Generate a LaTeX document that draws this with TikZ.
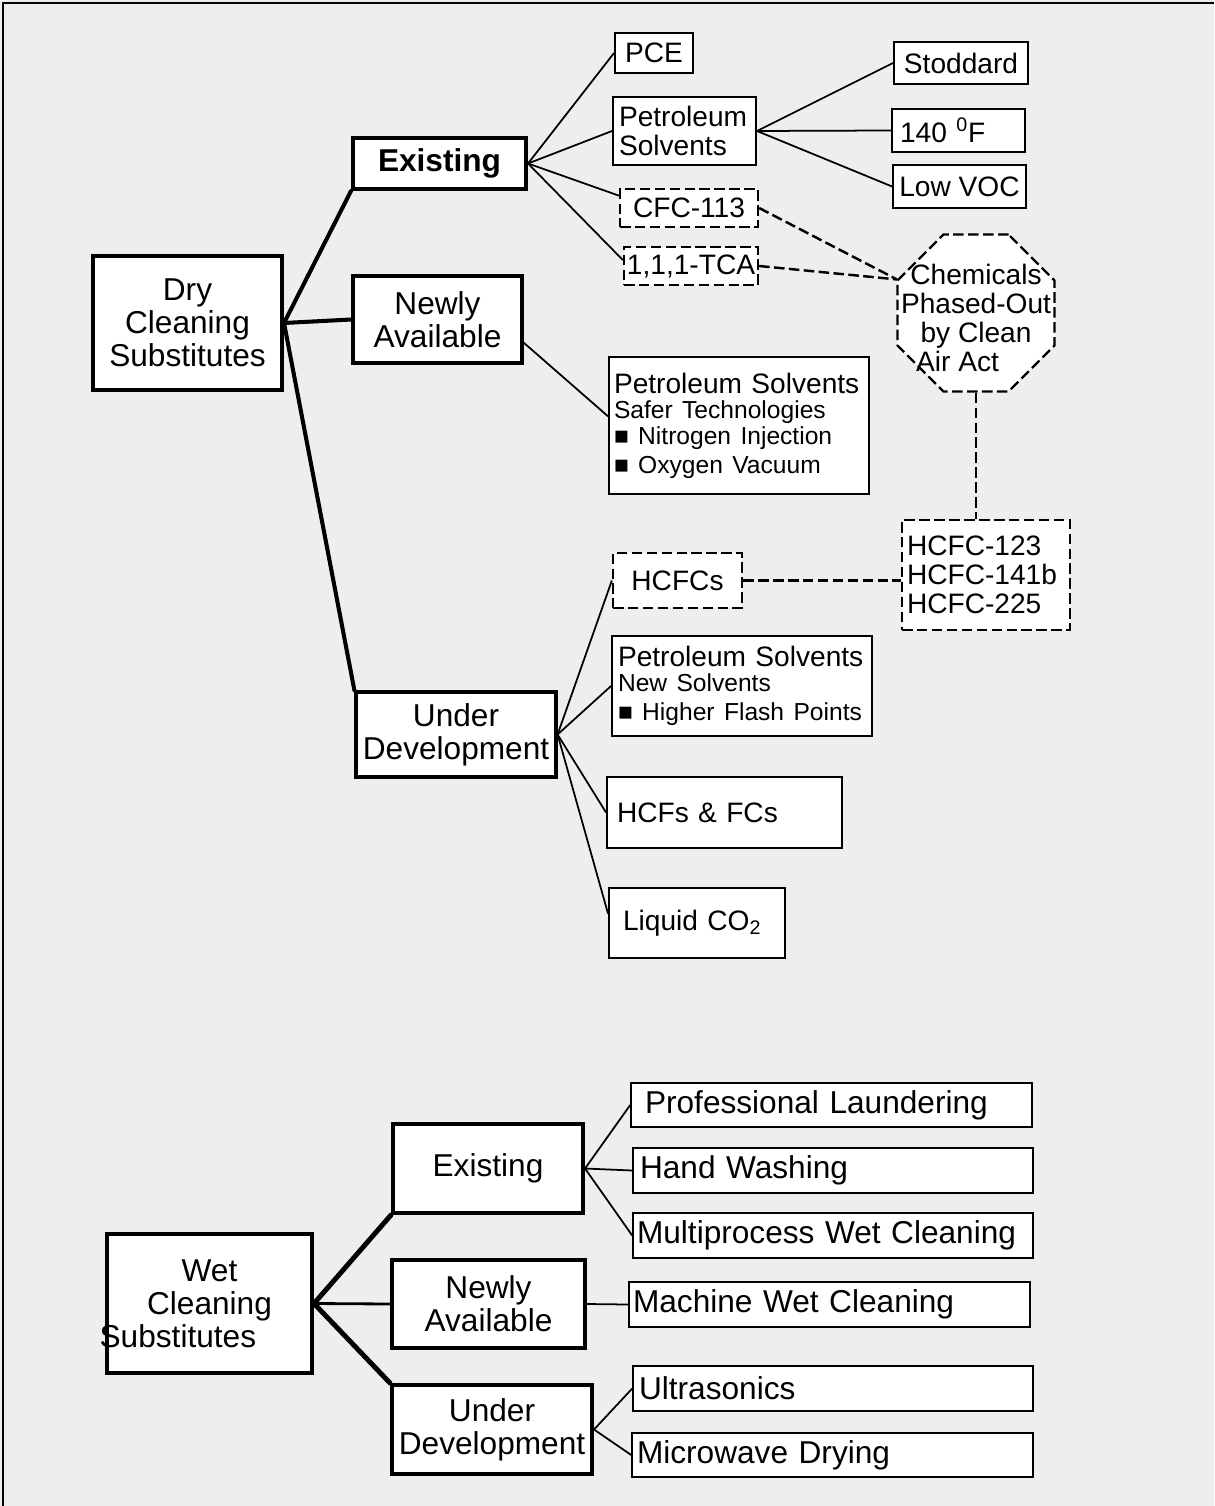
\documentclass[tikz,border=0pt]{standalone}
\usepackage{fontspec}
\setmainfont{Liberation Sans}
\usetikzlibrary{shapes.geometric}
\definecolor{bggray}{HTML}{EEEEEE}
\newcommand{\bigfont}{\fontsize{18}{18.8}\selectfont}
\newcommand{\midfont}{\fontsize{16}{16.5}\selectfont}
\newcommand{\smallfont}{\fontsize{14}{14.5}\selectfont}

\begin{document}
\begin{tikzpicture}[x=0.02cm, y=-0.02cm,
  box/.style={draw, fill=white, inner sep=0pt, line width=1.1pt, font=\midfont, align=center},
  sz/.style 2 args={minimum width=#1*0.02cm, minimum height=#2*0.02cm},
  lsz/.style n args={3}{text width=(#1-2*#3)*0.02cm, minimum height=#2*0.02cm,
    inner xsep=#3*0.02cm, align=left},
  head/.style={box, line width=2.3pt, font=\bigfont},
  sub/.style={box, line width=1.8pt, font=\bigfont},
  leaf/.style={box, line width=0.9pt, font=\bigfont},
  dbox/.style={box, line width=1.3pt, dash pattern=on 6pt off 2.5pt},
  octa/.style={draw, fill=white, regular polygon, regular polygon sides=8,
    minimum size=170*0.02cm, inner sep=0pt, line width=1.3pt, dash pattern=on 6pt off 2.5pt},
  link/.style={line width=1pt},
  trunk/.style={line width=2.3pt, line cap=round},
  dlink/.style={line width=1.4pt, dash pattern=on 6pt off 2.5pt}]
  \useasboundingbox (0,0) rectangle (1214,1506);
  \fill[bggray] (0,0) rectangle (1214,1506);
  \draw[line width=1.1pt] (3,1506) -- (3,3) -- (1214,3);
  % dry cleaning tree
  \node[head, sz={189}{134}] (dry) at (187.5,323) {Dry\\Cleaning\\Substitutes};
  \node[head, sz={173}{51}, font=\bigfont\bfseries] (dex) at (439.5,163.5) {Existing};
  \node[sub, sz={169}{87}] (dnew) at (437.5,319.5) {Newly\\Available};
  \node[sub, sz={200}{85}] (dund) at (456,734.5) {Under\\Development};
  % existing
  \node[box, sz={78}{40}] (pce) at (654,53) {PCE};
  \node[box, lsz={143}{68}{6}] (pet) at (684.5,131) {Petroleum\\Solvents};
  \node[dbox, sz={138}{38}] (cfc) at (689,208) {CFC-113};
  \node[dbox, sz={134}{38}] (tca) at (691,266) {1,1,1-TCA};
  \node[box, sz={134}{42}] (stod) at (961,63) {Stoddard};
  \node[box, lsz={133}{43}{8}] (f140) at (958.5,130.5) {140 \textsuperscript{0}F};
  \node[box, sz={133}{43}] (lvoc) at (959.5,186.5) {Low VOC};
  % phased-out chemicals
  \node[octa] (chem) at (976,313) {};
  \node[font=\midfont, align=center] (chemtxt) at ([yshift=-3pt]chem.center)
    {Chemicals\\Phased-Out\\by Clean\\\kern-21pt Air Act};
  \node[dbox, lsz={168}{110}{5}] (hcfcg) at (986,575) {HCFC-123\\HCFC-141b\\HCFC-225};
  % newly available
  \node[box, lsz={260}{137}{5}] (npet) at (739,425.5)
    {Petroleum Solvents\\\smallfont Safer Technologies\\■ Nitrogen Injection\\■ Oxygen Vacuum};
  % under development
  \node[dbox, sz={129}{55}] (hcfcs) at (677.5,580.5) {HCFCs};
  \node[box, lsz={260}{100}{6}] (upet) at (742,686)
    {Petroleum Solvents\\\smallfont New Solvents\\■ Higher Flash Points};
  \node[box, lsz={235}{71}{10}] (hcf) at (724.5,812.5) {HCFs \& FCs};
  \node[box, lsz={176}{70}{14}] (co2) at (697,923) {Liquid CO\textsubscript{2}};
  % wet cleaning tree
  \node[head, sz={205}{139}] (wet) at (209.5,1303.5) {Wet\\Cleaning\\\kern-36pt Substitutes};
  \node[head, sz={190}{89}] (wex) at (488,1168.5) {Existing};
  \node[sub, sz={193}{88}] (wnew) at (488.5,1304) {Newly\\Available};
  \node[head, sz={200}{89}] (wund) at (492,1429.5) {Under\\Development};
  \node[leaf, lsz={401}{44}{14}] (prof) at (831.5,1105) {Professional Laundering};
  \node[leaf, lsz={400}{45}{7}] (hand) at (833,1170.5) {Hand Washing};
  \node[leaf, lsz={400}{45}{4}] (multi) at (833,1235.5) {Multiprocess Wet Cleaning};
  \node[leaf, lsz={401}{45}{4}] (mach) at (829.5,1304.5) {Machine Wet Cleaning};
  \node[leaf, lsz={400}{45}{6}] (ultra) at (833,1388.5) {Ultrasonics};
  \node[leaf, lsz={401}{44}{5}] (micro) at (832.5,1455) {Microwave Drying};
  % connectors, dry
  \draw[trunk] (dry.east) -- (dex.south west);
  \draw[trunk] (dry.east) -- (dnew.west);
  \draw[trunk] (dry.east) -- (dund.north west);
  \foreach \n/\a in {pce/west, pet/west, cfc/170, tca/175}
    \draw[link] (dex.east) -- (\n.\a);
  \foreach \n in {stod, f140, lvoc}
    \draw[link] (pet.east) -- (\n.west);
  \draw[link] (dnew.-15) -- (npet.176);
  \foreach \n/\a in {hcfcs/west, upet/west, hcf/west, co2/174}
    \draw[link] (dund.east) -- (\n.\a);
  % phase-out links
  \draw[dlink] (cfc.east) -- (chem.157.5);
  \draw[dlink] (tca.east) -- (chem.157.5);
  \draw[dlink] (chem.south) -- (chem.south |- hcfcg.north);
  \draw[dlink] (hcfcs.east) -- (hcfcs.east -| hcfcg.west);
  % connectors, wet
  \draw[trunk, line width=2.8pt] (wet.east) -- (wex.south west);
  \draw[line width=1.6pt] (wet.east) -- (wnew.west);
  \draw[trunk, line width=2.8pt] (wet.east) -- (wund.north west);
  \foreach \n in {prof, hand, multi}
    \draw[link] (wex.east) -- (\n.west);
  \draw[link] (wnew.east) -- (mach.west);
  \foreach \n in {ultra, micro}
    \draw[link] (wund.east) -- (\n.west);
\end{tikzpicture}
\end{document}
